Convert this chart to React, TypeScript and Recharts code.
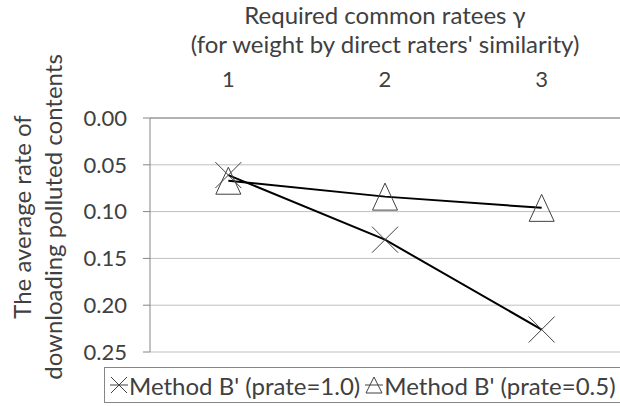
import { LineChart, Line, XAxis, YAxis, CartesianGrid, Legend } from 'recharts';

const gammas = [1, 2, 3];
const prate10 = [0.061, 0.13, 0.226];
const prate05 = [0.067, 0.084, 0.096];
const yTicks = [0, 0.05, 0.1, 0.15, 0.2, 0.25];
const boundaryTicks = [0.5, 1.5, 2.5, 3.5];

const seriesNames = ["Method B' (prate=1.0)", "Method B' (prate=0.5)"];

const data = gammas.map((g, i) => ({ x: g, p10: prate10[i], p05: prate05[i] }));

const textColor = '#404040';
const axisColor = '#868686';
const font = 'Lato';

function XDot({ cx, cy, r = 13 }: { cx: number; cy: number; r?: number }) {
  return (
    <g stroke="#404040" strokeWidth={1} fill="none">
      <line x1={cx - r} y1={cy - r} x2={cx + r} y2={cy + r} />
      <line x1={cx - r} y1={cy + r} x2={cx + r} y2={cy - r} />
    </g>
  );
}

function TriDot({ cx, cy, w = 12.5, h = 13.5 }: { cx: number; cy: number; w?: number; h?: number }) {
  return (
    <polygon
      points={`${cx},${cy - h} ${cx + w},${cy + h} ${cx - w},${cy + h}`}
      stroke="#404040"
      strokeWidth={1}
      fill="none"
    />
  );
}

function LegendBox() {
  const item = (icon: React.ReactNode, label: string) => (
    <span style={{ display: 'inline-flex', alignItems: 'center', marginRight: 5 }}>
      <svg width={18} height={20} style={{ marginRight: 1 }}>
        <line x1={0} y1={10} x2={18} y2={10} stroke="#404040" strokeWidth={1} />
        {icon}
      </svg>
      <span>{label}</span>
    </span>
  );
  return (
    <div
      style={{
        boxSizing: 'border-box',
        width: 516,
        height: 36,
        border: `1px solid ${axisColor}`,
        borderRight: 'none',
        display: 'flex',
        alignItems: 'center',
        paddingLeft: 5,
        fontFamily: font,
        fontSize: 24,
        color: textColor,
        whiteSpace: 'nowrap',
        overflow: 'hidden',
      }}
    >
      {item(<XDot cx={9} cy={10} r={8} />, seriesNames[0])}
      {item(<TriDot cx={9} cy={10} w={8} h={8} />, seriesNames[1])}
    </div>
  );
}

function TitleLabel({ viewBox }: any) {
  const cx = viewBox.x + viewBox.width / 2;
  return (
    <g fill={textColor} fontFamily={font} fontSize={24}>
      <text x={cx} y={viewBox.y - 36} textAnchor="middle">Required common ratees γ</text>
      <text x={cx} y={viewBox.y - 7} textAnchor="middle">(for weight by direct raters' similarity)</text>
    </g>
  );
}

function YTitle({ viewBox }: any) {
  const cy = viewBox.y + viewBox.height / 2 - 18;
  return (
    <g fill={textColor} fontFamily={font} fontSize={24}>
      <text transform={`translate(31,${cy}) rotate(-90)`} textAnchor="middle">The average rate of</text>
      <text transform={`translate(62,${cy}) rotate(-90)`} textAnchor="middle">downloading polluted contents</text>
    </g>
  );
}

export default function App() {
  return (
    <div style={{ position: 'absolute', left: 0, top: 0, background: '#fff' }}>
      <LineChart
        width={620}
        height={406}
        data={data}
        margin={{ top: 60, right: 0, bottom: 18, left: 0 }}
        style={{ fontFamily: font }}
      >
        <CartesianGrid xAxisId="grid" vertical={false} stroke="#bfbfbf" />
        <XAxis
          xAxisId="grid"
          type="number"
          dataKey="x"
          orientation="top"
          domain={[0.5, 3.5]}
          ticks={boundaryTicks}
          interval={0}
          height={8}
          tickSize={8}
          tick={false}
          stroke={axisColor}
        />
        <XAxis
          xAxisId="lab"
          type="number"
          dataKey="x"
          orientation="top"
          domain={[0.5, 3.5]}
          ticks={gammas}
          interval={0}
          height={50}
          axisLine={false}
          tickLine={false}
          tickSize={0}
          tickMargin={23}
          tick={{ fill: textColor, fontSize: 22, fontFamily: font }}
          label={<TitleLabel />}
        />
        <YAxis
          type="number"
          reversed
          domain={[0, 0.25]}
          ticks={yTicks}
          interval={0}
          width={150}
          tickSize={7}
          tickMargin={16}
          stroke={axisColor}
          tickFormatter={(v: number) => v.toFixed(2)}
          tick={{ fill: textColor, fontSize: 22, fontFamily: font }}
          label={<YTitle />}
        />
        <Line
          xAxisId="grid"
          dataKey="p10"
          name={seriesNames[0]}
          stroke="#000"
          strokeWidth={2}
          isAnimationActive={false}
          dot={(p: any) => <XDot key={`a${p.index}`} cx={p.cx} cy={p.cy} />}
        />
        <Line
          xAxisId="grid"
          dataKey="p05"
          name={seriesNames[1]}
          stroke="#000"
          strokeWidth={2}
          isAnimationActive={false}
          dot={(p: any) => <TriDot key={`b${p.index}`} cx={p.cx} cy={p.cy} />}
        />
        <Legend
          verticalAlign="bottom"
          content={() => <LegendBox />}
          wrapperStyle={{ left: 104, bottom: 3, width: 516, height: 36 }}
        />
      </LineChart>
    </div>
  );
}
